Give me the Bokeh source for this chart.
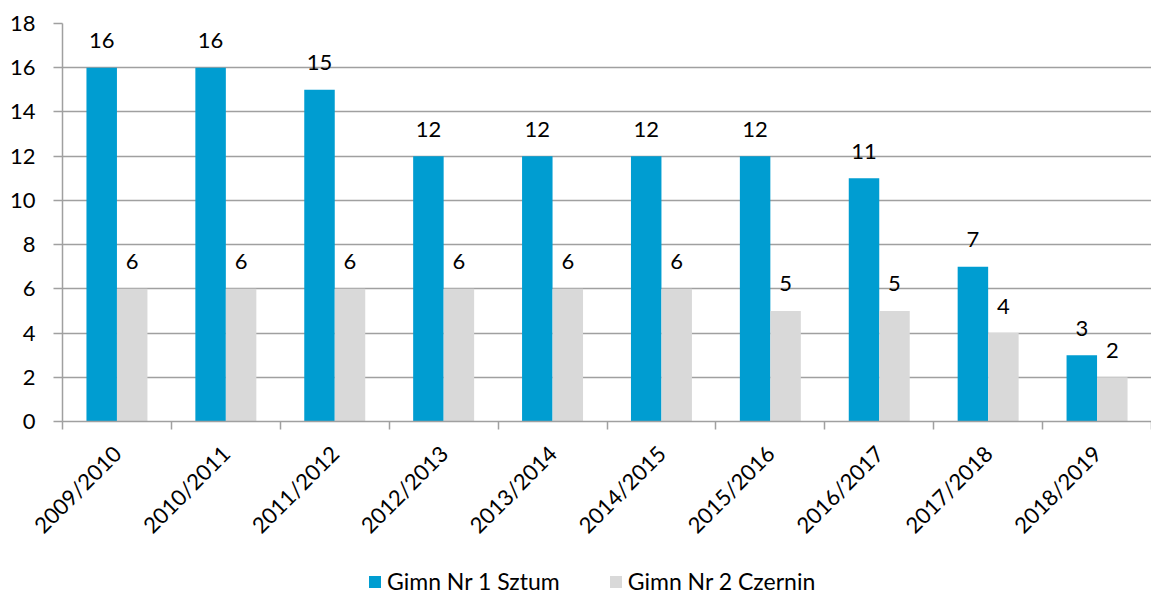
import math
import numpy as np
from bokeh.plotting import figure
from bokeh.layouts import column
from bokeh.models import (Range1d, LinearAxis, FixedTicker, ColumnDataSource,
                          Legend, LegendItem)
from bokeh.core.properties import value
from bokeh.embed import file_html
from bokeh.resources import INLINE

years = ["2009/2010", "2010/2011", "2011/2012", "2012/2013", "2013/2014",
         "2014/2015", "2015/2016", "2016/2017", "2017/2018", "2018/2019"]
sztum = [16, 16, 15, 12, 12, 12, 12, 11, 7, 3]
czernin = [6, 6, 6, 6, 6, 6, 5, 5, 4, 2]
series_names = ["Gimn Nr 1 Sztum", "Gimn Nr 2 Czernin"]
y_ticks = [0, 2, 4, 6, 8, 10, 12, 14, 16, 18]

BLUE = "#009DD1"
GREY = "#D9D9D9"
AXIS = "#A0A0A0"
FONT = "Lato"
FS = "22px"

n = len(years)
centers = np.arange(n) + 0.5
bw = 0.28
x1 = centers - bw / 2
x2 = centers + bw / 2

src1 = ColumnDataSource(dict(x=x1, top=sztum, lab=[str(v) for v in sztum]))
src2 = ColumnDataSource(dict(x=x2, top=czernin, lab=[str(v) for v in czernin]))

p = figure(width=1151, height=550, output_backend="svg", toolbar_location=None,
           x_range=Range1d(0, n), y_range=Range1d(0, 18),
           min_border_left=62, min_border_right=0, min_border_top=23,
           min_border_bottom=129)
p.outline_line_color = None
p.background_fill_color = "white"
p.border_fill_color = "white"

# y axis
p.yaxis.ticker = FixedTicker(ticks=y_ticks)
p.yaxis.axis_line_color = AXIS
p.yaxis.axis_line_width = 1.5
p.yaxis.major_tick_line_color = AXIS
p.yaxis.major_tick_line_width = 1.5
p.yaxis.major_tick_out = 9
p.yaxis.major_tick_in = 0
p.yaxis.minor_tick_line_color = None
p.yaxis.major_label_standoff = 18
p.yaxis.major_label_text_font = FONT
p.yaxis.major_label_text_font_size = FS
p.yaxis.major_label_text_color = "black"

# x axis: ticks at category boundaries only
p.xaxis.ticker = FixedTicker(ticks=list(range(n + 1)))
p.xaxis.axis_line_color = AXIS
p.xaxis.axis_line_width = 1.5
p.xaxis.major_tick_line_color = AXIS
p.xaxis.major_tick_line_width = 1.5
p.xaxis.major_tick_out = 8
p.xaxis.major_tick_in = 0
p.xaxis.minor_tick_line_color = None
p.xaxis.major_label_text_font_size = "1px"
p.xaxis.major_label_text_color = None
p.xaxis.major_label_standoff = 0

# x labels axis
lab_axis = LinearAxis(ticker=FixedTicker(ticks=centers.tolist()),
                      major_label_overrides={float(c): y for c, y in zip(centers, years)})
lab_axis.axis_line_color = None
lab_axis.major_tick_line_color = None
lab_axis.minor_tick_line_color = None
lab_axis.major_tick_out = 0
lab_axis.major_tick_in = 0
lab_axis.major_label_orientation = math.pi / 4
lab_axis.major_label_standoff = 20
lab_axis.major_label_text_font = FONT
lab_axis.major_label_text_font_size = FS
lab_axis.major_label_text_color = "black"
p.add_layout(lab_axis, "below")

p.xgrid.visible = False
p.ygrid.grid_line_color = AXIS
p.ygrid.grid_line_width = 1.5

p.vbar(x="x", top="top", width=bw, source=src1, fill_color=BLUE, line_color=None)
p.vbar(x="x", top="top", width=bw, source=src2, fill_color=GREY, line_color=None)

for s in (src1, src2):
    p.text(x="x", y="top", text="lab", source=s, text_align="center",
           text_baseline="alphabetic", y_offset=-27, text_font=value(FONT),
           text_font_size=FS, text_color="black")

# legend strip (bars lie outside its view; only the legend shows)
pl = figure(width=1151, height=45, output_backend="svg", toolbar_location=None,
            x_range=Range1d(0, n), y_range=Range1d(100, 101),
            x_axis_location=None, y_axis_location=None,
            min_border_left=0, min_border_right=0, min_border_top=0,
            min_border_bottom=0)
pl.outline_line_color = None
pl.xgrid.visible = False
pl.ygrid.visible = False
l1 = pl.vbar(x="x", top="top", width=bw, source=src1, fill_color=BLUE, line_color=None)
l2 = pl.vbar(x="x", top="top", width=bw, source=src2, fill_color=GREY, line_color=None)

legend = Legend(items=[LegendItem(label=series_names[0], renderers=[l1]),
                       LegendItem(label=series_names[1], renderers=[l2])],
                orientation="horizontal", location=(305, 0),
                glyph_width=15, glyph_height=15, label_standoff=5, spacing=48,
                label_text_font=FONT, label_text_font_size="23px",
                label_text_color="black",
                border_line_color=None, background_fill_alpha=0,
                padding=0, margin=0)
pl.add_layout(legend, "center")

page = column(p, pl, spacing=0)
open("out.html", "w").write(file_html(page, INLINE))
